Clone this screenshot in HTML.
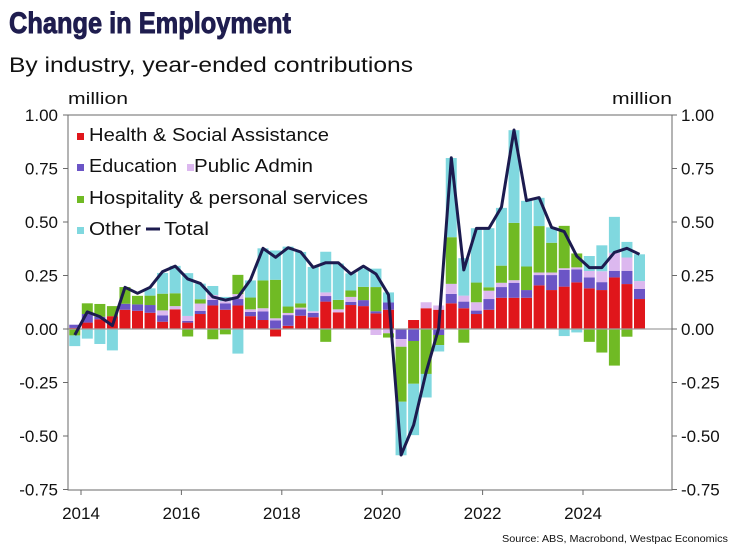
<!DOCTYPE html>
<html><head><meta charset="utf-8"><style>
html,body{margin:0;padding:0;background:#fff;}
svg{display:block;font-family:"Liberation Sans",sans-serif;}
</style></head><body>
<svg id="chart" width="740" height="555" viewBox="0 0 740 555" xmlns="http://www.w3.org/2000/svg">
<text x="9" y="33" font-family="'Liberation Sans Narrow','Liberation Sans',sans-serif" font-weight="bold" font-size="30" fill="#1f1d4f" stroke="#1f1d4f" stroke-width="0.9" textLength="282" lengthAdjust="spacingAndGlyphs">Change in Employment</text>
<text x="9" y="72" font-size="21" fill="#111" textLength="404" lengthAdjust="spacingAndGlyphs">By industry, year-ended contributions</text>
<text x="68" y="104" font-size="17" fill="#111" textLength="60" lengthAdjust="spacingAndGlyphs">million</text>
<text x="612" y="104" font-size="17" fill="#111" textLength="60" lengthAdjust="spacingAndGlyphs">million</text>
<g id="grid"></g>
<g id="bars"></g>
<g id="lines"></g>
<g id="axes"></g>
<g font-size="18" fill="#111">
  <rect x="77" y="133" width="7" height="7" fill="#e0161b"/>
  <text x="89" y="141" textLength="240" lengthAdjust="spacingAndGlyphs">Health &amp; Social Assistance</text>
  <rect x="77" y="164" width="7" height="7" fill="#6b55c6"/>
  <text x="89" y="172" textLength="88" lengthAdjust="spacingAndGlyphs">Education</text>
  <rect x="187" y="164" width="7" height="7" fill="#dcb8ef"/>
  <text x="194" y="172" textLength="119" lengthAdjust="spacingAndGlyphs">Public Admin</text>
  <rect x="77" y="196" width="7" height="7" fill="#70ba24"/>
  <text x="89" y="204" textLength="279" lengthAdjust="spacingAndGlyphs">Hospitality &amp; personal services</text>
  <rect x="77" y="227" width="7" height="7" fill="#80d8df"/>
  <text x="89" y="235" textLength="52" lengthAdjust="spacingAndGlyphs">Other</text>
  <line x1="146" y1="229" x2="160" y2="229" stroke="#1c1b4f" stroke-width="3"/>
  <text x="164" y="235" textLength="45" lengthAdjust="spacingAndGlyphs">Total</text>
</g>
<text x="728" y="542" font-size="10.5" fill="#111" text-anchor="end" textLength="226" lengthAdjust="spacingAndGlyphs">Source: ABS, Macrobond, Westpac Economics</text>
</svg>
<script>
const health = [0.005,0.03,0.045,0.06,0.09,0.085,0.076,0.034,0.092,0.03,0.07,0.11,0.09,0.11,0.06,0.042,-0.035,0.015,0.062,0.055,0.128,0.078,0.112,0.107,0.073,0.09,0,0.042,0.097,0.09,0.12,0.097,0.07,0.09,0.146,0.146,0.146,0.204,0.182,0.198,0.218,0.19,0.182,0.241,0.21,0.14];
const education = [0.015,0.04,0.012,0,0.028,0.03,0.036,0.03,0,0.008,0.015,0.026,0.03,0.03,0.02,0.04,0.04,0.05,0.03,0.02,0.026,0,0.015,0.028,0.01,0.034,-0.047,-0.056,0,-0.028,0.044,0.031,0.016,0.05,0.05,0.07,0.036,0.048,0.07,0.078,0.06,0.051,0.037,0.031,0.062,0.047];
const publicAdmin = [0,0,0,0,0,0,0,0.023,0.015,0.023,0.034,0.023,0.01,0.023,0.012,0.015,0.01,0.01,0.008,0.008,0.017,0.014,0.023,0,-0.028,-0.02,-0.036,0,0.028,0.02,0.047,0.028,0.039,0.039,0.02,0.012,0,0.012,0.012,0.008,0.01,0.03,0.051,0.084,0.062,0.037];
const hospitality = [-0.03,0.05,0.06,0.047,0.078,0.04,0.044,0.078,0.06,-0.035,0.02,-0.048,-0.025,0.09,0.055,0.13,0.18,0.03,0.02,0,-0.06,0.044,0.03,0.062,0.113,-0.02,-0.257,-0.2,-0.21,-0.047,0.218,-0.064,0.092,0.016,0.08,0.268,0.11,0.217,0.139,0.198,0.065,-0.06,-0.11,-0.171,-0.036,0];
const other = [-0.05,-0.045,-0.07,-0.1,0,0,0.034,0.097,0.128,0.2,0.073,0.042,0.02,-0.115,0.08,0.15,0.137,0.28,0.24,0.207,0.19,0.17,0.08,0.086,0.086,0.047,-0.25,-0.24,-0.11,-0.03,0.37,0.175,0.254,0.276,0.27,0.433,0.307,0.132,0.072,-0.033,-0.016,0.07,0.121,0.168,0.073,0.125];
const total = [-0.028,0.08,0.058,0.016,0.195,0.167,0.195,0.268,0.294,0.234,0.213,0.15,0.135,0.148,0.23,0.377,0.335,0.38,0.36,0.288,0.31,0.31,0.257,0.294,0.257,0.16,-0.589,-0.449,-0.2,0.003,0.8,0.276,0.47,0.47,0.57,0.93,0.6,0.614,0.475,0.455,0.34,0.287,0.287,0.358,0.377,0.349];
const yTicks = [1.00,0.75,0.50,0.25,0.00,-0.25,-0.50,-0.75];
const yearTicks = [2014,2016,2018,2020,2022,2024];
const firstQuarter = 2013.75;

const NS='http://www.w3.org/2000/svg';
const plotL=68, plotR=672, plotT=115, plotB=490;
function y(v){return 329 - v*214;}
function xT(t){return 81 + (t-2014)*50.2;}
function xBar(i){return xT(firstQuarter + i*0.25) + 6.3;}
function mk(tag, attrs, parent){const e=document.createElementNS(NS,tag);for(const k in attrs)e.setAttribute(k,attrs[k]);parent.appendChild(e);return e;}
const grid=document.getElementById('grid'), barsG=document.getElementById('bars'), linesG=document.getElementById('lines'), axes=document.getElementById('axes');

const series=[
 {name:'health',vals:health,color:'#e0161b'},
 {name:'education',vals:education,color:'#6b55c6'},
 {name:'public-admin',vals:publicAdmin,color:'#dcb8ef'},
 {name:'hospitality',vals:hospitality,color:'#70ba24'},
 {name:'other',vals:other,color:'#80d8df'}
];
const bw=11;
for(let i=0;i<health.length;i++){
  let pos=0, neg=0;
  for(const s of series){
    const v=s.vals[i]; if(!v) continue;
    let y0,y1;
    if(v>0){y0=pos;y1=pos+v;pos=y1;} else {y0=neg;y1=neg+v;neg=y1;}
    const r=mk('rect',{x:xBar(i)-bw/2,y:Math.min(y(y0),y(y1)),width:bw,height:Math.abs(y(y1)-y(y0)),fill:s.color},barsG);
    
    
  }
}
const zl=mk('line',{x1:plotL,x2:plotR,y1:y(0),y2:y(0),stroke:'#a0a0a0','stroke-width':1.2},linesG);


const pts=total.map((v,i)=>xBar(i).toFixed(1)+','+y(v).toFixed(1)).join(' ');
const tl=mk('polyline',{points:pts,fill:'none',stroke:'#1c1b4f','stroke-width':3,'stroke-linejoin':'round'},linesG);



const frame=mk('path',{d:`M${plotL},${plotT}H${plotR}V${plotB}H${plotL}Z`,fill:'none',stroke:'#6a6a6a','stroke-width':1},axes);


for(const t of yTicks){
  const yy=y(t);
  mk('line',{x1:plotL-5,x2:plotL,y1:yy,y2:yy,stroke:'#6a6a6a'},axes);
  mk('line',{x1:plotR,x2:plotR+5,y1:yy,y2:yy,stroke:'#6a6a6a'},axes);
  const lab=t.toFixed(2);
  const a=mk('text',{x:58,y:yy+6,'text-anchor':'end','font-size':17,fill:'#111'},axes);
  a.textContent=lab;
  
  
  const b=mk('text',{x:681,y:yy+6,'font-size':17,fill:'#111'},axes);
  b.textContent=lab;
  
  
}
for(const yr of yearTicks){
  const xx=xT(yr);
  mk('line',{x1:xx,x2:xx,y1:plotB,y2:plotB+5,stroke:'#6a6a6a'},axes);
  const tx=mk('text',{x:xx,y:519,'text-anchor':'middle','font-size':17,fill:'#111'},axes);
  tx.textContent=yr;
  
  
}
</script>
</body></html>
